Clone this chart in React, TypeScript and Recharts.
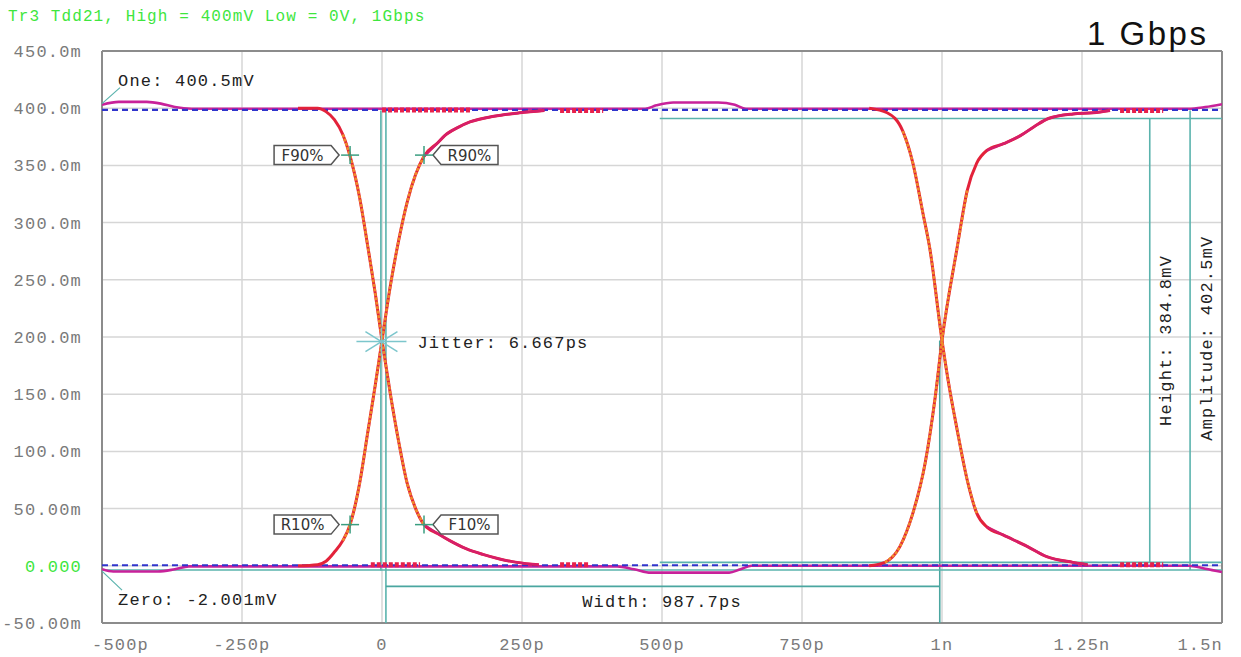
import React from 'react'
import { ComposedChart, Line, XAxis, YAxis, CartesianGrid, ReferenceLine, ReferenceDot } from 'recharts'

// Eye diagram 1 Gbps — time in ps, voltage in mV

const W = 1241
const H = 657

const xTicks = [-500, -250, 0, 250, 500, 750, 1000, 1250, 1500]
const xTickLabels = ['-500p', '-250p', '0', '250p', '500p', '750p', '1n', '1.25n', '1.5n']
const yTicks = [-50, 0, 50, 100, 150, 200, 250, 300, 350, 400, 450]
const yTickLabels = ['-50.00m', '0.000', '50.00m', '100.0m', '150.0m', '200.0m', '250.0m', '300.0m', '350.0m', '400.0m', '450.0m']

// first crossing (around 0 ps)
const fall1T = [-150, -115, -100, -85, -70, -57, -40, -25, -12, 0, 15, 30, 45, 60, 75, 100, 121, 150, 180, 210, 241, 280]
const fall1V = [400, 400, 397, 390, 377, 358, 322, 278, 238, 197, 150, 108, 72, 50, 36, 28, 22, 15, 10, 6, 3, 1]
const rise1T = [-150, -115, -100, -85, -70, -57, -40, -25, -12, 0, 15, 30, 45, 60, 75, 100, 112, 135, 157, 200, 246, 290]
const rise1V = [0, 1, 4, 12, 22, 36, 72, 118, 158, 197, 245, 285, 318, 342, 358, 370, 376, 383, 388, 393, 396, 398]

// second crossing (around 1 ns)
const fall2T = [870, 902, 930, 948, 966, 978, 1000, 1011, 1027, 1045, 1062, 1080, 1109, 1152, 1187, 1234, 1260]
const fall2V = [400, 396, 380, 352, 308, 278, 197, 162, 119, 75, 46, 34, 27, 17, 8, 3, 1]
const rise2T = [870, 898, 925, 948, 970, 988, 1000, 1027, 1045, 1062, 1080, 1110, 1140, 1165, 1190, 1234, 1270, 1300]
const rise2V = [0, 3, 17, 46, 90, 148, 197, 278, 328, 352, 363, 369, 376, 384, 391, 395, 396, 398]

// flat one / zero levels
const topBlueT = [-500, 1500]
const topBlueV = [398.5, 398.5]
const topMagT = [-500, -470, -420, -395, -370, -340, 0, 470, 490, 520, 600, 630, 650, 900, 1440, 1470, 1500]
const topMagV = [403, 405.5, 405.5, 404, 401, 399.5, 399.5, 399.5, 402.5, 405, 405, 403, 399.5, 399.5, 399.5, 401, 403.5]
const botBlueT = [-500, 1500]
const botBlueV = [0.5, 0.5]
const botMagT = [-500, -480, -400, -370, -345, 420, 450, 480, 620, 640, 660, 1440, 1470, 1500]
const botMagV = [-3, -5, -5, -3, -0.5, -0.5, -3, -6, -6, -3, 0, 0, -2.5, -5.5]
const redTopT = [0, 160, 161, 318, 395, 396, 1318, 1395]
const redTopV = [398.5, 398.5, null, 398, 398, null, 398, 398]
const redBotT = [-20, 68, 69, 318, 371, 372, 1318, 1395]
const redBotV = [1, 1, null, 1, 1, null, 1, 1]

const pts = (t: number[], v: (number | null)[]) => t.map((x, i) => ({ t: x, v: v[i] }))

const TEAL = '#5ab3ad'
const MONO = '"Liberation Mono", "DejaVu Sans Mono", monospace'

const XTick = ({ x, y, payload }: any) => {
  const i = xTicks.indexOf(payload.value)
  let anchor: 'middle' | 'start' | 'end' = 'middle'
  let tx = x
  if (i === 0) { anchor = 'start'; tx = x - 10 }
  if (i === xTicks.length - 1) { anchor = 'end'; tx = x + 1 }
  return (
    <text x={tx} y={y + 27} textAnchor={anchor} fontFamily={MONO} fontSize={17} letterSpacing={1.2} fill="#7a7a7a">
      {xTickLabels[i]}
    </text>
  )
}

const YTick = ({ x, y, payload }: any) => {
  const i = yTicks.indexOf(payload.value)
  return (
    <text x={x} y={y + 6} textAnchor="end" fontFamily={MONO} fontSize={17} letterSpacing={1.2}
      fill={payload.value === 0 ? '#3ee63e' : '#7a7a7a'}>
      {yTickLabels[i]}
    </text>
  )
}

const cross = (cx: number, cy: number) => (
  <g stroke="#3a9e80" strokeWidth={1.5}>
    <line x1={cx - 9} y1={cy} x2={cx + 9} y2={cy} />
    <line x1={cx} y1={cy - 9} x2={cx} y2={cy + 9} />
  </g>
)

// tag with arrow pointing at the crosshair
const tagShape = (text: string, side: 'left' | 'right') => (p: any) => {
  const { cx, cy } = p
  const T = cy - 9.5
  const B = cy + 9.5
  let poly = ''
  let mid = 0
  if (side === 'left') {
    const L = cx - 76, R = cx - 19, tip = cx - 11
    poly = `${L},${T} ${R},${T} ${tip},${cy} ${R},${B} ${L},${B}`
    mid = (L + R) / 2
  } else {
    const L = cx + 17, R = cx + 74, tip = cx + 9
    poly = `${L},${T} ${R},${T} ${R},${B} ${L},${B} ${tip},${cy}`
    mid = (L + R) / 2
  }
  return (
    <g>
      <polygon points={poly} fill="#fff" stroke="#555" strokeWidth={1.5} />
      <text x={mid} y={cy + 5.5} textAnchor="middle" fontFamily='"DejaVu Sans", sans-serif' fontSize={15} fill="#333">{text}</text>
      {cross(cx, cy)}
    </g>
  )
}

const oneShape = (p: any) => (
  <g>
    <line x1={p.cx} y1={p.cy - 4} x2={p.cx + 18} y2={p.cy - 20} stroke={TEAL} strokeWidth={1.2} />
    <text x={p.cx + 16} y={p.cy - 22} fontFamily={MONO} fontSize={17} letterSpacing={1.2} fill="#222">One: 400.5mV</text>
  </g>
)

const zeroShape = (p: any) => (
  <g>
    <line x1={p.cx} y1={p.cy + 3} x2={p.cx + 20} y2={p.cy + 22} stroke={TEAL} strokeWidth={1.2} />
    <text x={p.cx + 16} y={p.cy + 37} fontFamily={MONO} fontSize={17} letterSpacing={1.2} fill="#222">Zero: -2.001mV</text>
  </g>
)

const jitterShape = (p: any) => {
  const { cx, cy } = p
  return (
    <g>
      <g stroke="#7cc6cc" strokeWidth={1.5}>
        <line x1={cx - 25} y1={cy} x2={cx + 25} y2={cy} />
        <line x1={cx - 16} y1={cy - 10} x2={cx + 16} y2={cy + 10} />
        <line x1={cx - 16} y1={cy + 10} x2={cx + 16} y2={cy - 10} />
        <line x1={cx} y1={cy - 14} x2={cx} y2={cy + 14} />
      </g>
      <text x={cx + 36} y={cy + 6} fontFamily={MONO} fontSize={17} letterSpacing={1.2} fill="#222">Jitter: 6.667ps</text>
    </g>
  )
}

const widthShape = (p: any) => (
  <text x={p.cx} y={p.cy + 21} textAnchor="middle" fontFamily={MONO} fontSize={17} letterSpacing={1.2} fill="#222">Width: 987.7ps</text>
)

const vertText = (text: string, dx: number) => (p: any) => (
  <text x={p.cx + dx} y={p.cy} transform={`rotate(-90 ${p.cx + dx} ${p.cy})`} textAnchor="middle"
    fontFamily={MONO} fontSize={17} letterSpacing={1.2} fill="#222">{text}</text>
)

const seg = (x1: number, y1: number, x2: number, y2: number, color = TEAL) => (
  <ReferenceLine segment={[{ x: x1, y: y1 }, { x: x2, y: y2 }]} stroke={color} strokeWidth={1.6} ifOverflow="visible" />
)

const common = { dataKey: 'v', dot: false, activeDot: false, isAnimationActive: false, connectNulls: false, legendType: 'none' as const }

export default function App() {
  return (
    <div style={{ position: 'absolute', left: 0, top: 0, width: W, height: H, background: '#fff' }}>
      <ComposedChart width={W} height={H} margin={{ top: 51, right: 19, bottom: 0, left: 0 }}>
        <CartesianGrid stroke="#d6d6d6" strokeWidth={1.5} />
        <XAxis type="number" dataKey="t" domain={[-500, 1500]} ticks={xTicks} interval={0} height={34}
          axisLine={false} tickLine={false} tickSize={0} tickMargin={0} tick={<XTick />} allowDataOverflow />
        <YAxis type="number" dataKey="v" domain={[-50, 450]} ticks={yTicks} interval={0} width={102}
          axisLine={false} tickLine={false} tickSize={0} tickMargin={20} tick={<YTick />} allowDataOverflow />

        {/* borda do gráfico */}
        <ReferenceLine x={-500} stroke="#8c8c8c" strokeWidth={2} ifOverflow="visible" />
        <ReferenceLine x={1500} stroke="#8c8c8c" strokeWidth={2} ifOverflow="visible" />
        <ReferenceLine y={-50} stroke="#8c8c8c" strokeWidth={2} ifOverflow="visible" />
        <ReferenceLine y={450} stroke="#8c8c8c" strokeWidth={2} ifOverflow="visible" />

        {/* linhas de medição */}
        {seg(-2, 398, -2, -4)}
        {seg(7, 398, 7, -50)}
        {seg(7, -18, 996, -18, '#4aa6a0')}
        {seg(996, 197, 996, -50, '#4aa6a0')}
        {seg(496, 391, 1500, 391)}
        {seg(496, 3, 1500, 3)}
        {seg(-500, -3.7, 1500, -3.7)}
        {seg(1371, 391, 1371, 3)}
        {seg(1443, 398, 1443, -3.7)}

        {/* níveis 1 / 0 */}
        <Line {...common} data={pts(topMagT, topMagV)} type="monotone" stroke="#c8229a" strokeWidth={2.6} />
        <Line {...common} data={pts(topBlueT, topBlueV)} type="linear" stroke="#3034cc" strokeWidth={2.2} strokeDasharray="6 4" />
        <Line {...common} data={pts(botMagT, botMagV)} type="monotone" stroke="#c8229a" strokeWidth={2.6} />
        <Line {...common} data={pts(botBlueT, botBlueV)} type="linear" stroke="#3034cc" strokeWidth={2.2} strokeDasharray="6 4" />
        <Line {...common} data={pts(redTopT, redTopV)} type="linear" stroke="#e8204a" strokeWidth={5} strokeDasharray="4 2" />
        <Line {...common} data={pts(redBotT, redBotV)} type="linear" stroke="#e8204a" strokeWidth={5} strokeDasharray="4 2" />

        {/* bordas de subida / descida */}
        <Line {...common} data={pts(fall1T, fall1V)} type="monotone" stroke="#e3223a" strokeWidth={3} />
        <Line {...common} data={pts(rise1T, rise1V)} type="monotone" stroke="#e3223a" strokeWidth={3} />
        <Line {...common} data={pts(fall2T, fall2V)} type="monotone" stroke="#e3223a" strokeWidth={3} />
        <Line {...common} data={pts(rise2T, rise2V)} type="monotone" stroke="#e3223a" strokeWidth={3} />
        <Line {...common} data={pts(fall1T, fall1V).slice(4, 15)} type="monotone" stroke="#f08a2a" strokeWidth={2.6} strokeDasharray="3 1.5" />
        <Line {...common} data={pts(rise1T, rise1V).slice(4, 15)} type="monotone" stroke="#f08a2a" strokeWidth={2.6} strokeDasharray="3 1.5" />
        <Line {...common} data={pts(fall2T, fall2V).slice(2, 11)} type="monotone" stroke="#f08a2a" strokeWidth={2.6} strokeDasharray="3 1.5" />
        <Line {...common} data={pts(rise2T, rise2V).slice(1, 9)} type="monotone" stroke="#f08a2a" strokeWidth={2.6} strokeDasharray="3 1.5" />
        <Line {...common} data={pts(fall1T, fall1V).slice(14)} type="monotone" stroke="#d61e6a" strokeWidth={2.5} />
        <Line {...common} data={pts(rise1T, rise1V).slice(14)} type="monotone" stroke="#d61e6a" strokeWidth={2.5} />
        <Line {...common} data={pts(fall2T, fall2V).slice(11)} type="monotone" stroke="#d61e6a" strokeWidth={2.5} />
        <Line {...common} data={pts(rise2T, rise2V).slice(10)} type="monotone" stroke="#d61e6a" strokeWidth={2.5} />

        {/* anotações */}
        <ReferenceDot x={-57} y={359} r={1} ifOverflow="visible" shape={tagShape('F90%', 'left')} />
        <ReferenceDot x={75} y={359} r={1} ifOverflow="visible" shape={tagShape('R90%', 'right')} />
        <ReferenceDot x={-57} y={36} r={1} ifOverflow="visible" shape={tagShape('R10%', 'left')} />
        <ReferenceDot x={75} y={36} r={1} ifOverflow="visible" shape={tagShape('F10%', 'right')} />
        <ReferenceDot x={-1} y={196} r={1} ifOverflow="visible" shape={jitterShape} />
        <ReferenceDot x={-500} y={400.5} r={1} ifOverflow="visible" shape={oneShape} />
        <ReferenceDot x={-500} y={-2} r={1} ifOverflow="visible" shape={zeroShape} />
        <ReferenceDot x={500} y={-18} r={1} ifOverflow="visible" shape={widthShape} />
        <ReferenceDot x={1371} y={197} r={1} ifOverflow="visible" shape={vertText('Height: 384.8mV', 21)} />
        <ReferenceDot x={1443} y={199} r={1} ifOverflow="visible" shape={vertText('Amplitude: 402.5mV', 22)} />
      </ComposedChart>

      <svg width={W} height={H} style={{ position: 'absolute', left: 0, top: 0, pointerEvents: 'none' }}>
        <text x={8} y={21} fontFamily={MONO} fontSize={16} letterSpacing={1.1} fill="#3ee63e">
          Tr3 Tdd21, High = 400mV Low = 0V, 1Gbps
        </text>
        <text x={1087} y={45} fontFamily='"Liberation Sans", Arial, sans-serif' fontSize={33} letterSpacing={2.5} fill="#111">
          1 Gbps
        </text>
      </svg>
    </div>
  )
}
